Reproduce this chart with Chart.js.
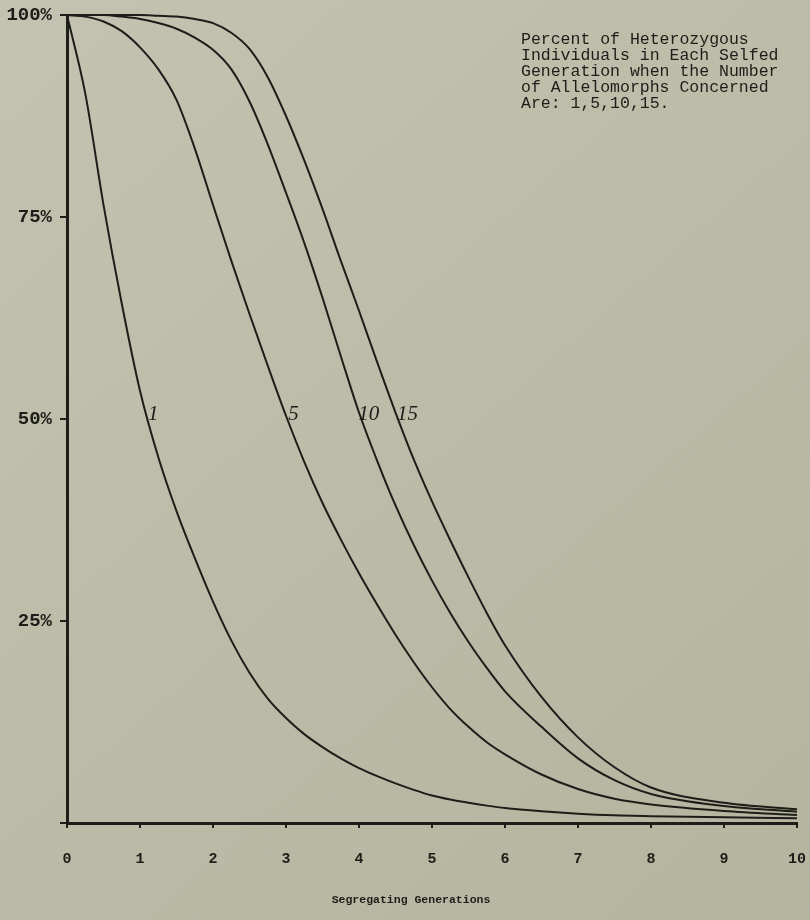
<!DOCTYPE html>
<html>
<head>
<meta charset="utf-8">
<script src="https://cdn.jsdelivr.net/npm/chart.js@4.4.1/dist/chart.umd.min.js"></script>
<style>
  html, body { margin: 0; padding: 0; background: #bdbca8; }
  #wrap { width: 810px; height: 920px; }
</style>
</head>
<body>
<div id="wrap"><canvas id="chart" width="810" height="920"></canvas></div>
<script>
// Segregating generations (x) shared by every curve
const generations = [0, 0.25, 0.5, 0.75, 1, 1.25, 1.5, 1.75, 2, 2.25, 2.5, 2.75, 3, 3.25, 3.5, 3.75,
                     4, 4.25, 4.5, 4.75, 5, 5.25, 5.5, 5.75, 6, 6.5, 7, 7.5, 8, 9, 10];

// Percent of heterozygous individuals for 1, 5, 10 and 15 allelomorph pairs
const hetOne = [100, 90.3, 76.5, 64.3, 53.5, 45.3, 38.6, 32.8, 27.4, 22.6, 18.6, 15.4, 13.0, 11.0, 9.4, 8.0,
                6.8, 5.8, 4.9, 4.1, 3.4, 2.9, 2.5, 2.15, 1.85, 1.45, 1.15, 0.95, 0.85, 0.7, 0.6];
const hetFive = [100, 99.8, 99.2, 98.0, 96.0, 93.3, 89.5, 83.5, 76.5, 69.6, 63.0, 56.6, 50.4, 44.7, 39.6, 35.1,
                 30.9, 27.0, 23.3, 19.9, 16.8, 14.1, 11.9, 10.0, 8.5, 6.0, 4.2, 3.0, 2.3, 1.5, 1.0];
const hetTen = [100, 100, 100, 99.8, 99.5, 99.0, 98.3, 97.2, 95.7, 93.3, 89.3, 84.0, 78.0, 71.8, 65.0, 57.8,
                50.8, 44.8, 39.3, 34.4, 30.0, 26.0, 22.4, 19.2, 16.3, 11.9, 8.0, 5.3, 3.6, 2.1, 1.4];
const hetFifteen = [100, 100, 100, 100, 100, 99.9, 99.8, 99.5, 99.0, 97.8, 95.8, 92.3, 87.5, 82.0, 76.0, 69.6,
                    63.4, 57.0, 50.8, 45.0, 39.8, 35.0, 30.4, 26.0, 22.0, 15.6, 10.6, 6.9, 4.4, 2.5, 1.7];

// Curve names and the generation at which each name is lettered beside its curve (at the 50% level)
const curveNames = ['1', '5', '10', '15'];
const nameAtGeneration = [1.11, 3.03, 3.99, 4.52];
const nameAtPercent = 50.6;

// Axis ticks
const xTicks = [0, 1, 2, 3, 4, 5, 6, 7, 8, 9, 10];
const yTicks = [0, 25, 50, 75, 100];

const xTitle = 'Segregating Generations';
const noteLines = [
  'Percent of Heterozygous',
  'Individuals in Each Selfed',
  'Generation when the Number',
  'of Allelomorphs Concerned',
  'Are: 1,5,10,15.'
];

const INK = '#1d1d19';
const MONO = '"Liberation Mono", "DejaVu Sans Mono", monospace';

const toPoints = vals => generations.map((g, i) => ({ x: g, y: vals[i] }));
const seriesValues = [hetOne, hetFive, hetTen, hetFifteen];

const paperPlugin = {
  id: 'paper',
  beforeDraw(chart) {
    const { ctx, width, height } = chart;
    ctx.save();
    const g = ctx.createLinearGradient(0, 0, width, height);
    g.addColorStop(0, '#c4c3b1');
    g.addColorStop(0.5, '#bcbba7');
    g.addColorStop(1, '#b5b49f');
    ctx.fillStyle = g;
    ctx.fillRect(0, 0, width, height);
    ctx.restore();
  }
};

const lettersPlugin = {
  id: 'letters',
  afterDraw(chart) {
    const { ctx } = chart;
    const xs = chart.scales.x, ys = chart.scales.y;
    ctx.save();
    ctx.fillStyle = INK;
    // curve names
    ctx.font = 'italic 21px "Liberation Serif", serif';
    ctx.textAlign = 'left';
    ctx.textBaseline = 'middle';
    curveNames.forEach((name, i) => {
      ctx.fillText(name, xs.getPixelForValue(nameAtGeneration[i]), ys.getPixelForValue(nameAtPercent));
    });
    // explanatory note, top right
    ctx.font = '16.5px ' + MONO;
    noteLines.forEach((line, i) => {
      ctx.fillText(line, 521, 40 + i * 16);
    });
    // horizontal axis title
    ctx.font = 'bold 11.5px ' + MONO;
    ctx.textAlign = 'center';
    ctx.fillText(xTitle, 411, 900);
    ctx.restore();
  }
};

new Chart(document.getElementById('chart'), {
  type: 'line',
  data: {
    datasets: seriesValues.map((vals, i) => ({
      label: curveNames[i],
      data: toPoints(vals),
      borderColor: INK,
      borderWidth: 2,
      pointRadius: 0,
      fill: false,
      cubicInterpolationMode: 'monotone',
      clip: false
    }))
  },
  options: {
    responsive: false,
    animation: false,
    devicePixelRatio: 1,
    layout: { padding: { top: 15, right: 13, left: 0, bottom: 0 } },
    plugins: { legend: { display: false }, tooltip: { enabled: false } },
    scales: {
      x: {
        type: 'linear',
        min: 0, max: 10,
        afterFit(s) { s.height = 97; s.paddingLeft = 0; s.paddingRight = 0; },
        afterBuildTicks(s) { s.ticks = xTicks.map(v => ({ value: v })); },
        ticks: {
          color: INK,
          font: { family: MONO, size: 15, weight: 'bold' },
          padding: 22,
          maxRotation: 0,
          autoSkip: false
        },
        grid: { drawOnChartArea: false, tickLength: 5, color: INK, lineWidth: 2 },
        border: { display: true, color: INK, width: 3 }
      },
      y: {
        type: 'linear',
        min: 0, max: 100,
        afterFit(s) { s.width = 67; s.paddingTop = 0; s.paddingBottom = 0; },
        afterBuildTicks(s) { s.ticks = yTicks.map(v => ({ value: v })); },
        ticks: {
          color: INK,
          font: { family: MONO, size: 19, weight: 'bold' },
          padding: 8,
          callback: v => (v === 0 ? '' : v + '%')
        },
        grid: { drawOnChartArea: false, tickLength: 7, color: INK, lineWidth: 2 },
        border: { display: true, color: INK, width: 3 }
      }
    }
  },
  plugins: [paperPlugin, lettersPlugin]
});
</script>
</body>
</html>
